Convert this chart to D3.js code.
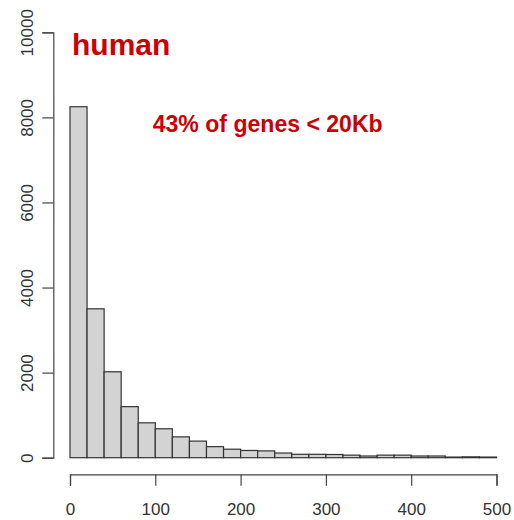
<!DOCTYPE html>
<html><head><meta charset="utf-8">
<script src="https://cdn.jsdelivr.net/npm/d3@7"></script>
<style>body{margin:0;background:#fff}svg{display:block}</style>
</head><body>
<svg id="c" width="514" height="520"></svg>
<script>
const binStarts = [0,20,40,60,80,100,120,140,160,180,200,220,240,260,280,300,320,340,360,380,400,420,440,460,480];
const binWidth = 20;
const counts = [8250,3500,2020,1200,820,680,490,390,260,200,170,160,110,80,80,75,60,40,60,60,40,40,15,20,15];
const xTicks = [0,100,200,300,400,500];
const yTicks = [0,2000,4000,6000,8000,10000];
const title = "human";
const note = "43% of genes < 20Kb";

const svg = d3.select("#c");
const x = d3.scaleLinear().domain([0,500]).range([70,496.5]);
const y = d3.scaleLinear().domain([0,10000]).range([457.7,32.3]);

svg.append("g").selectAll("rect").data(binStarts).join("rect")
  .attr("x", (d)=>x(d)).attr("width", (d)=>x(d+binWidth)-x(d))
  .attr("y", (d,i)=>y(counts[i])).attr("height", (d,i)=>y(0)-y(counts[i]))
  .attr("fill","#d3d3d3").attr("stroke","#333").attr("stroke-width",1.2);

const fontAxis = "'Liberation Sans', Arial, sans-serif";
const xa = svg.append("g").attr("transform","translate(0,474.3)")
  .call(d3.axisBottom(x).tickValues(xTicks).tickSize(11.5).tickPadding(17).tickFormat(d3.format("d")));
const ya = svg.append("g").attr("transform","translate(53.3,0)")
  .call(d3.axisLeft(y).tickValues(yTicks).tickSize(11).tickFormat(d3.format("d")));
[xa,ya].forEach(g=>{
  g.select(".domain").attr("stroke","#444").attr("stroke-width",1.2);
  g.selectAll(".tick line").attr("stroke","#444").attr("stroke-width",1.2);
  g.selectAll("text").attr("fill","#333").style("font-family",fontAxis).style("font-size","17px");
});
ya.selectAll(".tick text").attr("x",null).attr("dy",null)
  .attr("text-anchor","middle")
  .attr("transform","translate(-26,0) rotate(-90)")
  .attr("dy","0.35em").attr("y",0);

svg.append("text").attr("x",x(0)+2).attr("y",55)
  .attr("fill","#cd0000").style("font-family",fontAxis).style("font-weight","bold").style("font-size","30px")
  .text(title);
svg.append("text").attr("x",152.7).attr("y",131.5)
  .attr("fill","#cd0000").style("font-family","'Liberation Sans Narrow', 'Liberation Sans', Arial, sans-serif")
  .style("font-weight","bold").style("font-size","24px")
  .attr("textLength",230).attr("lengthAdjust","spacingAndGlyphs")
  .text(note);
</script>
</body></html>
